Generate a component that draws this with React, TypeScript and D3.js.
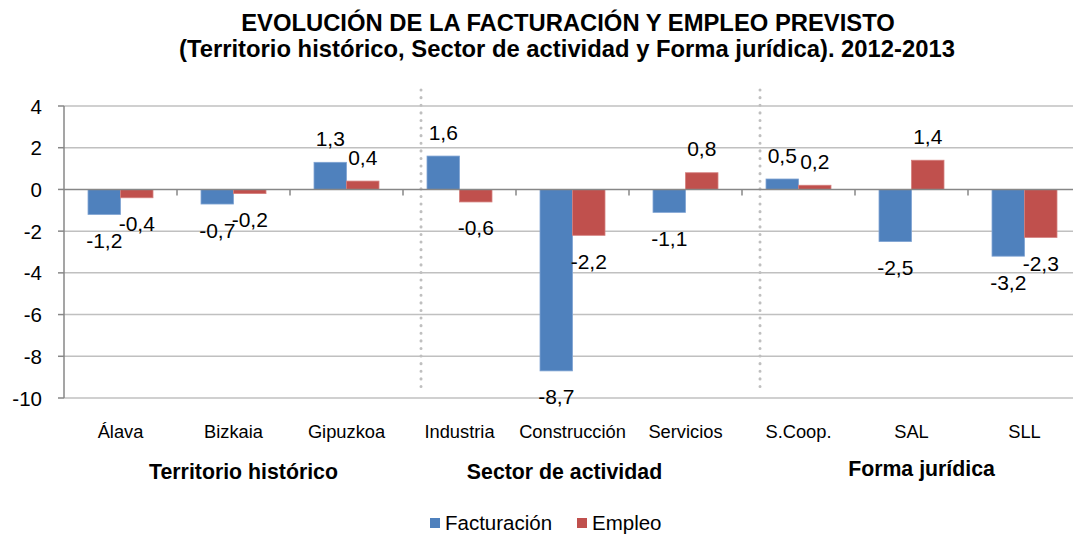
import { useMemo } from 'react';
import type { ReactNode } from 'react';
import { scaleLinear, scaleBand } from 'd3';

const categories = ['Álava', 'Bizkaia', 'Gipuzkoa', 'Industria', 'Construcción', 'Servicios', 'S.Coop.', 'SAL', 'SLL'];
const facturacion = [-1.2, -0.7, 1.3, 1.6, -8.7, -1.1, 0.5, -2.5, -3.2];
const empleo = [-0.4, -0.2, 0.4, -0.6, -2.2, 0.8, 0.2, 1.4, -2.3];
const seriesNames = ['Facturación', 'Empleo'];
const seriesColors = ['#4F81BD', '#C0504D'];
const yTicks = [4, 2, 0, -2, -4, -6, -8, -10];
const groupLabels = ['Territorio histórico', 'Sector de actividad', 'Forma jurídica'];
const groupRanges = [['Álava', 'Gipuzkoa'], ['Industria', 'Servicios'], ['S.Coop.', 'SLL']];
const separatorsBefore = ['Industria', 'S.Coop.'];

const W = 1073;
const H = 535;
const FONT = 'Liberation Sans, Arial, sans-serif';

const fmt = (v: number) => v.toFixed(1).replace('.', ',');

function T({ x, y, size, anchor = 'middle', bold = false, base = 'central', children }: {
  x: number; y: number; size: number; anchor?: string; bold?: boolean; base?: string; children: ReactNode;
}) {
  return (
    <text x={x} y={y} textAnchor={anchor} dominantBaseline={base}
      fontSize={size} fontWeight={bold ? 'bold' : 'normal'} fill="#000">
      {children}
    </text>
  );
}

export default function App() {
  const left = 64;
  const step = 113;
  const y = useMemo(() => scaleLinear().domain([-10, 4]).range([398, 106]), []);
  const x = useMemo(
    () => scaleBand<string>().domain(categories).range([left, left + step * categories.length]).paddingInner(0.425).paddingOuter(0.2125),
    []
  );
  const x1 = useMemo(() => scaleBand<string>().domain(seriesNames).range([0, x.bandwidth()]), [x]);
  const series = [facturacion, empleo];
  const groupDx = [10, -8, 10];
  const groupBase = [479, 479, 476];

  return (
    <svg width={W} height={H} style={{ position: 'absolute', left: 0, top: 0, background: '#fff' }} fontFamily={FONT}>
      {/* title */}
      <T x={568} y={31} size={23.8} bold base="alphabetic">EVOLUCIÓN DE LA FACTURACIÓN Y EMPLEO PREVISTO</T>
      <T x={567} y={57} size={23.8} bold base="alphabetic">
        (Territorio histórico, Sector de actividad y Forma jurídica). 2012-2013
      </T>

      {/* gridlines */}
      {yTicks.filter(t => t !== 0).map(t => (
        <line key={t} x1={left} x2={W} y1={y(t)} y2={y(t)} stroke="#C0C0C0" strokeWidth={1.5} />
      ))}

      {/* y axis */}
      <line x1={left} x2={left} y1={y(4)} y2={y(-10)} stroke="#878787" strokeWidth={1.5} />
      {yTicks.map(t => (
        <g key={t}>
          <line x1={left - 6} x2={left} y1={y(t)} y2={y(t)} stroke="#878787" strokeWidth={1.5} />
          <T x={42} y={y(t)} size={20.5} anchor="end">{t}</T>
        </g>
      ))}

      {/* separators */}
      {separatorsBefore.map(c => (
        <line key={c} x1={(x(c) ?? 0) - 6} x2={(x(c) ?? 0) - 6} y1={90} y2={388}
          stroke="#BFBFBF" strokeWidth={3} strokeDasharray="0.1,7.5" strokeLinecap="round" />
      ))}

      {/* bars */}
      {series.map((vals, si) => vals.map((v, i) => {
        const bx = (x(categories[i]) ?? 0) + (x1(seriesNames[si]) ?? 0);
        return (
          <rect key={`${si}-${i}`} x={bx} width={x1.bandwidth()}
            y={Math.min(y(v), y(0))} height={Math.abs(y(v) - y(0))}
            fill={seriesColors[si]} stroke={si === 0 ? '#7FA3D3' : '#D47F7D'} strokeWidth={0.8} />
        );
      }))}

      {/* zero axis */}
      <line x1={left} x2={W} y1={y(0)} y2={y(0)} stroke="#878787" strokeWidth={1.5} />
      {categories.map((c, i) => {
        const tx = left + step * (i + 1);
        return <line key={c} x1={tx} x2={tx} y1={y(0)} y2={y(0) + 6} stroke="#878787" strokeWidth={1.5} />;
      })}

      {/* data labels */}
      {series.map((vals, si) => vals.map((v, i) => {
        const cx = (x(categories[i]) ?? 0) + (x1(seriesNames[si]) ?? 0) + x1.bandwidth() / 2;
        const cy = v >= 0 ? y(v) - 24 : y(v) + 26;
        return <T key={`l${si}-${i}`} x={cx} y={cy} size={21}>{fmt(v)}</T>;
      }))}

      {/* category labels */}
      {categories.map(c => (
        <T key={c} x={(x(c) ?? 0) + x.bandwidth() / 2} y={438} size={18.3} base="alphabetic">{c}</T>
      ))}

      {/* group labels */}
      {groupLabels.map((g, gi) => {
        const a = x(groupRanges[gi][0]) ?? 0;
        const b = (x(groupRanges[gi][1]) ?? 0) + x.bandwidth();
        return (
          <T key={g} x={(a + b) / 2 + groupDx[gi]} y={groupBase[gi]} size={21.3} bold base="alphabetic">{g}</T>
        );
      })}

      {/* legend */}
      {seriesNames.map((s, si) => {
        const lx = si === 0 ? 430 : 577;
        return (
          <g key={s}>
            <rect x={lx} y={518} width={10} height={10} fill={seriesColors[si]} />
            <T x={lx + 15} y={529.5} size={20.5} anchor="start" base="alphabetic">{s}</T>
          </g>
        );
      })}
    </svg>
  );
}
